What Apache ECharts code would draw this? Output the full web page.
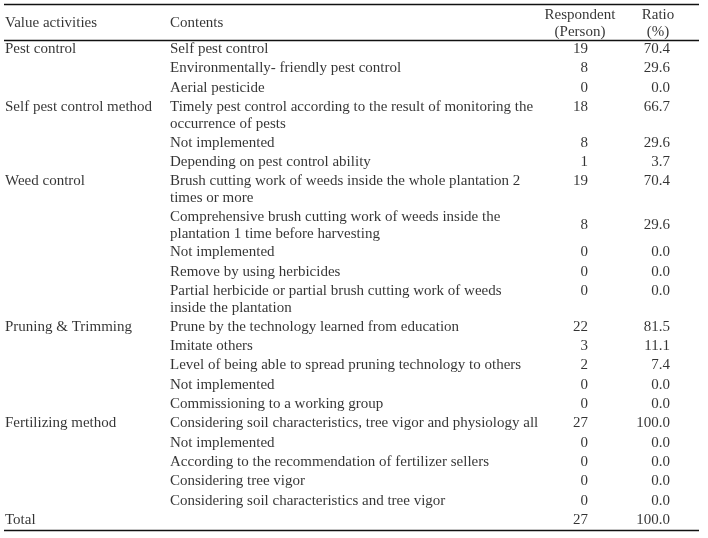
<!DOCTYPE html>
<html><head><meta charset="utf-8">
<script src="https://cdn.jsdelivr.net/npm/echarts@6/dist/echarts.min.js"></script>
<style>html,body{margin:0;padding:0;background:#fff}#c{width:708px;height:538px}</style>
</head><body><div id="c"></div>
<script>
const headers = ["Value activities", "Contents", "Respondent\n(Person)", "Ratio\n(%)"];
const groups = ["Pest control", "Self pest control method", "Weed control", "Pruning & Trimming", "Fertilizing method"];
const groupRowCounts = [3, 3, 5, 5, 5];
const contents = [
  "Self pest control",
  "Environmentally- friendly pest control",
  "Aerial pesticide",
  "Timely pest control according to the result of monitoring the\noccurrence of pests",
  "Not implemented",
  "Depending on pest control ability",
  "Brush cutting work of weeds inside the whole plantation 2\ntimes or more",
  "Comprehensive brush cutting work of weeds inside the\nplantation 1 time before harvesting",
  "Not implemented",
  "Remove by using herbicides",
  "Partial herbicide or partial brush cutting work of weeds\ninside the plantation",
  "Prune by the technology learned from education",
  "Imitate others",
  "Level of being able to spread pruning technology to others",
  "Not implemented",
  "Commissioning to a working group",
  "Considering soil characteristics, tree vigor and physiology all",
  "Not implemented",
  "According to the recommendation of fertilizer sellers",
  "Considering tree vigor",
  "Considering soil characteristics and tree vigor"
];
const respondents = [19, 8, 0, 18, 8, 1, 19, 8, 0, 0, 0, 22, 3, 2, 0, 0, 27, 0, 0, 0, 0];
const ratios = [70.4, 29.6, 0.0, 66.7, 29.6, 3.7, 70.4, 29.6, 0.0, 0.0, 0.0, 81.5, 11.1, 7.4, 0.0, 0.0, 100.0, 0.0, 0.0, 0.0, 0.0];
const totalLabel = "Total";
const totalRespondents = 27;
const totalRatio = 100.0;

// ---- layout ----
const W = 708, H = 538;
const FONT = "Liberation Serif";
const FS = 15;
const LH = 17;
const COLOR = "#000";
const X_GROUP = 5, X_CONT = 170, X_RESP = 588, X_RATIO = 670, X_RESP_H = 580, X_RATIO_H = 658;
const Y0 = 49, ROW_H = 19.33, WRAP_H = 16.25;
const numCentered = [7]; // rows whose numbers are vertically centered on their wrapped text

const rowY = [];
let wraps = 0;
for (let i = 0; i <= contents.length; i++) {
  rowY.push(Y0 + ROW_H * i + WRAP_H * wraps);
  if (i < contents.length) wraps += contents[i].split("\n").length - 1;
}
const totalY = rowY[contents.length];

const groupData = [];
let r = 0;
groups.forEach((g, gi) => { groupData.push([X_GROUP, rowY[r], g]); r += groupRowCounts[gi]; });
groupData.push([X_GROUP, totalY, totalLabel]);

const contData = contents.map((c, i) => [X_CONT, rowY[i] - LH / 2, c]);
const numY = i => {
  const n = contents[i].split("\n").length;
  return numCentered.includes(i) ? rowY[i] + (n - 1) * LH / 2 : rowY[i];
};
const respData = respondents.map((v, i) => [X_RESP, numY(i), String(v)]);
respData.push([X_RESP, totalY, String(totalRespondents)]);
const ratioData = ratios.map((v, i) => [X_RATIO, numY(i), v.toFixed(1)]);
ratioData.push([X_RATIO, totalY, totalRatio.toFixed(1)]);

const headData = [
  [X_GROUP, 23, headers[0], "left"],
  [X_CONT, 23, headers[1], "left"],
  [X_RESP_H, 23.5, headers[2], "center"],
  [X_RATIO_H, 23.5, headers[3], "center"]
];

function textSeries(data, align, vAlign) {
  return {
    type: "scatter", data: data, symbolSize: 0.01, silent: true,
    itemStyle: { color: "transparent" },
    label: {
      show: true, position: "inside", align: align, verticalAlign: vAlign || "middle",
      formatter: p => p.value[2], color: COLOR, fontFamily: FONT, fontSize: FS, lineHeight: LH
    }
  };
}

const lineY = [4.5, 40, 530.5];
const chart = echarts.init(document.getElementById("c"), null, { renderer: "canvas" });
chart.setOption({
  animation: false,
  backgroundColor: "#fff",
  grid: { left: 0, right: 0, top: 0, bottom: 0 },
  xAxis: { type: "value", min: 0, max: W, show: false },
  yAxis: { type: "value", min: 0, max: H, inverse: true, show: false },
  series: [
    {
      type: "scatter", data: headData.map(d => ({ value: d, label: { align: d[3] } })),
      symbolSize: 0.01, silent: true, itemStyle: { color: "transparent" },
      label: { show: true, position: "inside", verticalAlign: "middle", formatter: p => p.value[2],
        color: COLOR, fontFamily: FONT, fontSize: FS, lineHeight: LH },
      markLine: {
        silent: true, symbol: "none", animation: false,
        lineStyle: { color: "#111", width: 1.3, type: "solid" },
        label: { show: false },
        data: lineY.map(y => [{ coord: [4, y] }, { coord: [699, y] }])
      }
    },
    textSeries(groupData, "left"),
    textSeries(contData, "left", "top"),
    textSeries(respData, "right"),
    textSeries(ratioData, "right")
  ]
});
</script></body></html>
